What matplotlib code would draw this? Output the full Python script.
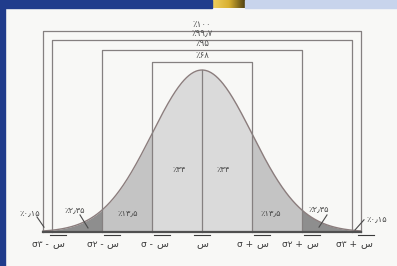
import numpy as np
import matplotlib.pyplot as plt
from matplotlib.patches import Rectangle

plt.rcParams['font.family'] = ['DejaVu Sans']

# sigma bounds of the nested boxes and their labels
box_sigmas = [3.18, 3.0, 2.0, 1.0]
box_heights = [0.495, 0.473, 0.448, 0.419]
box_labels = ['٪۱۰۰', '٪۹۹٫۷', '٪۹۵', '٪۶۸']

# tick positions (in sigma) and their labels
tick_sigmas = [-3, -2, -1, 0, 1, 2, 3]
tick_prefix = ['σ۳ - ', 'σ۲ - ', 'σ - ', '', 'σ + ', 'σ۲ + ', 'σ۳ + ']

# area percentages
pct_center = '٪۳۴'
pct_one = '٪۱۳٫۵'
pct_two = '٪۲٫۳۵'
pct_three = '٪۰٫۱۵'

fill_colors = ['#dadada', '#c4c4c4', '#8e8e8e']
line_col = '#858080'
curve_col = '#8b7d7d'
txt_col = '#4a4a4a'


def pdf(z):
    return np.exp(-z ** 2 / 2) / np.sqrt(2 * np.pi)


fig = plt.figure(figsize=(3.97, 2.66), dpi=100, facecolor='#f8f8f6')
ax = fig.add_axes([0, 0, 1, 1])
ax.set_facecolor('#f8f8f6')
ax.axis('off')
ax.set_xlim(-202 / 50, 195 / 50)
ax.set_ylim(-34 / 406, 232 / 406)

# shaded areas
for i, col in enumerate(fill_colors):
    for sign in (-1, 1):
        a, b = sorted([sign * i, sign * (i + 1)])
        zz = np.linspace(a, b, 100)
        ax.fill_between(zz, 0, pdf(zz), color=col, lw=0)
zz = np.linspace(-3.18, 3.18, 400)
ax.plot(zz, pdf(zz), color=curve_col, lw=1.0)

# nested boxes
for s, h, lab in zip(box_sigmas, box_heights, box_labels):
    ax.plot([-s, -s, s, s], [0, h, h, 0], color=line_col, lw=0.9)
    ax.text(0, h + 0.004, lab, ha='center', va='bottom', fontsize=6.2, color='#505050')

ax.plot([0, 0], [0, pdf(0)], color=line_col, lw=0.9)
ax.plot([-3.18, 3.18], [0, 0], color='#505050', lw=1.6)

# percentages
ax.text(-0.46, 0.153, pct_center, ha='center', va='center', fontsize=6, color=txt_col)
ax.text(0.42, 0.153, pct_center, ha='center', va='center', fontsize=6, color=txt_col)
ax.text(-1.48, 0.047, pct_one, ha='center', va='center', fontsize=6, color=txt_col)
ax.text(1.38, 0.047, pct_one, ha='center', va='center', fontsize=6, color=txt_col)
ax.text(-2.54, 0.054, pct_two, ha='center', va='center', fontsize=6, color=txt_col)
ax.text(2.33, 0.057, pct_two, ha='center', va='center', fontsize=6, color=txt_col)
ax.text(-3.44, 0.047, pct_three, ha='center', va='center', fontsize=6, color=txt_col)
ax.text(3.50, 0.034, pct_three, ha='center', va='center', fontsize=6, color=txt_col)
ax.plot([-2.44, -2.28], [0.042, 0.010], color=txt_col, lw=0.8)
ax.plot([2.50, 2.34], [0.042, 0.012], color=txt_col, lw=0.8)
ax.plot([-3.30, -3.16], [0.037, 0.012], color=txt_col, lw=0.8)
ax.plot([3.24, 3.06], [0.030, 0.005], color=txt_col, lw=0.8)

# tick labels: prefix + س with an overline
for z, pre in zip(tick_sigmas, tick_prefix):
    xs = z + (0.2 if pre else 0)
    if abs(z) == 3:
        xs += 0.08 * np.sign(z)
    y = -0.028
    ax.text(xs, y, 'س', ha='center', va='center', fontsize=7, color='#3a3a3a')
    ax.plot([xs - 0.16, xs + 0.16], [y + 0.021, y + 0.021], color='#3a3a3a', lw=0.8)
    if pre:
        ax.text(xs - 0.12, y - 0.002, pre, ha='right', va='center', fontsize=6.5, color='#3a3a3a')

# frame decoration: top band and left stripe
fig.patches.append(Rectangle((0, 1 - 8 / 266), 212 / 397, 8 / 266, transform=fig.transFigure,
                             color='#203c8c', zorder=5))
fig.patches.append(Rectangle((245 / 397, 1 - 8 / 266), 1, 8 / 266, transform=fig.transFigure,
                             color='#c8d4ec', zorder=5))
fig.patches.append(Rectangle((0, 0), 5 / 397, 1, transform=fig.transFigure,
                             color='#203c8c', zorder=5))
gax = fig.add_axes([212 / 397, 1 - 8 / 266, 33 / 397, 8 / 266])
gax.axis('off')
grad = np.linspace(0, 1, 64).reshape(1, -1)
gax.imshow(grad, aspect='auto', cmap=plt.matplotlib.colors.LinearSegmentedColormap.from_list(
    'g', ['#f0d060', '#d8b030', '#4a3c10']))

fig.savefig('out.png', dpi=100, facecolor=fig.get_facecolor())
